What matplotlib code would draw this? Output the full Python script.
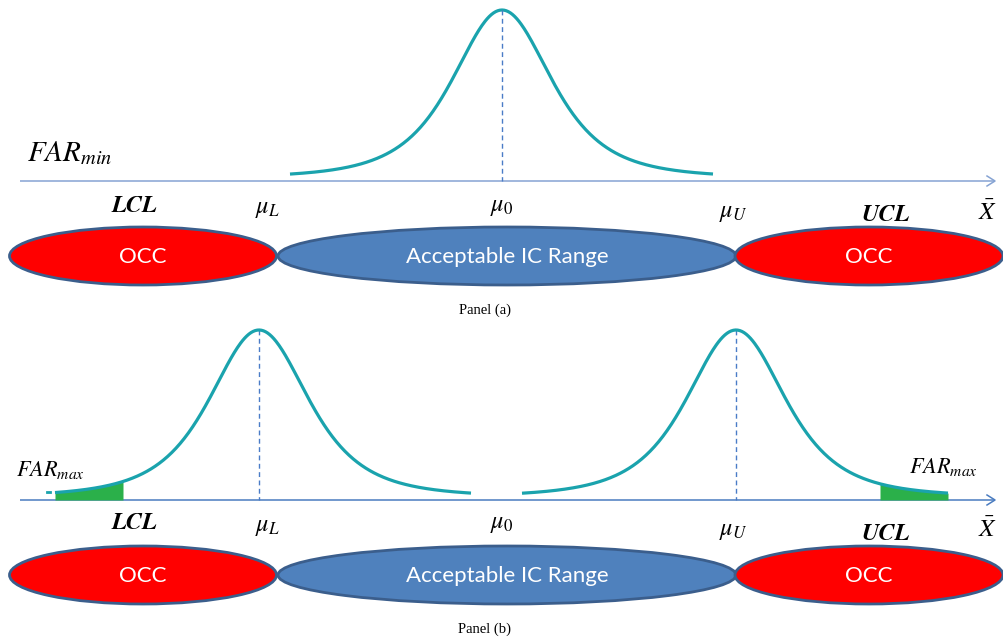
import numpy as np
import matplotlib
matplotlib.use("Agg")
import matplotlib.pyplot as plt
from matplotlib.patches import Ellipse

plt.rcParams['mathtext.fontset'] = 'stix'

# ---------------- data / labels ----------------
zone_labels = ["OCC", "Acceptable IC Range", "OCC"]
limit_labels = ["LCL", "UCL"]
mean_labels = [r"$\mu_L$", r"$\mu_0$", r"$\mu_U$"]
axis_label = r"$\bar{X}$"
far_labels = [r"$FAR_{min}$", r"$FAR_{max}$"]
panel_titles = ["Panel (a)", "Panel (b)"]

# schematic in-control density (Student-t shape)
curve_df = 3
curve_scale = 52.0

# ---------------- layout (pixel space) ----------------
W, H = 1004, 641
fig = plt.figure(figsize=(W / 100, H / 100), dpi=100)
ax = fig.add_axes([0, 0, 1, 1])
ax.set_xlim(0, W)
ax.set_ylim(H, 0)
ax.axis('off')

TEAL = '#1aa3ad'
DASH = '#4a7cc7'
RED = '#ff0000'
BLUE = '#4f81bd'
EDGE = '#3b5e8c'
GREEN = '#2bb04a'


def density(x, mu):
    q = ((x - mu) / curve_scale) ** 2 / curve_df
    return (1 + q) ** (-(curve_df + 1) / 2)


def draw_axis(y, color):
    ax.plot([20, 994], [y, y], color=color, lw=1.1, solid_capstyle='butt')
    ax.plot([987, 995, 987], [y - 5, y, y + 5], color=color, lw=1.1)


def draw_zones(yc):
    specs = [(143, 267, RED), (507, 458, BLUE), (869, 268, RED)]
    for (cx, w, col), lab in zip(specs, zone_labels):
        ax.add_patch(Ellipse((cx, yc), w, 58, facecolor=col,
                             edgecolor=EDGE, lw=2, zorder=3))
        ax.text(cx, yc + 1, lab, color='white', fontsize=16,
                family='Lato', ha='center', va='center', zorder=4)


def limit_text(x, y, s):
    ax.text(x, y, s, fontsize=17.5, family='STIXGeneral', fontweight='bold',
            fontstyle='italic', ha='center', va='center')


# ================= Panel (a) =================
ya = 181
draw_axis(ya, '#86a3d3')
mu0 = 502
xa = np.linspace(290, 713, 400)
base_a, amp_a = 178, 168
ax.plot(xa, base_a - amp_a * density(xa, mu0), color=TEAL, lw=2.3,
        solid_capstyle='butt', zorder=2)
ax.plot([mu0, mu0], [base_a - amp_a, ya], color=DASH, lw=1,
        ls=(0, (3.5, 2.5)))

ax.text(70, 153, far_labels[0], fontsize=21, ha='center', va='center')
limit_text(134, 206, limit_labels[0])
limit_text(886, 215, limit_labels[1])
ax.text(268, 208, mean_labels[0], fontsize=17.5, ha='center', va='center')
ax.text(502, 206, mean_labels[1], fontsize=17.5, ha='center', va='center')
ax.text(733, 212, mean_labels[2], fontsize=17.5, ha='center', va='center')
ax.text(988, 213, axis_label, fontsize=18, ha='center', va='center')
draw_zones(256)
ax.text(485, 310, panel_titles[0], fontsize=10.5, family='Liberation Serif',
        ha='center', va='center')

# ================= Panel (b) =================
yb = 500
draw_axis(yb, '#4a7cc0')
muL, muU = 259, 736
base_b, amp_b = 497, 167
xl = np.linspace(55, 471, 400)
xr = np.linspace(522, 948, 400)
ax.plot(xl, base_b - amp_b * density(xl, muL), color=TEAL, lw=2.3,
        solid_capstyle='butt', zorder=3)
ax.plot(xr, base_b - amp_b * density(xr, muU), color=TEAL, lw=2.3,
        solid_capstyle='butt', zorder=3)

# shaded false-alarm tails
gl = np.linspace(55, 123, 100)
gr = np.linspace(880, 948, 100)
ax.fill_between(gl, base_b - amp_b * density(gl, muL), yb, color=GREEN,
                lw=0, zorder=2)
ax.fill_between(gr, base_b - amp_b * density(gr, muU), yb, color=GREEN,
                lw=0, zorder=2)
ax.plot([47, 50], [492, 492], color=TEAL, lw=2)

for m in (muL, muU):
    ax.plot([m, m], [base_b - amp_b, yb], color=DASH, lw=1,
            ls=(0, (3.5, 2.5)))

ax.text(50, 470, far_labels[1], fontsize=16, ha='center', va='center')
ax.text(943, 467, far_labels[1], fontsize=16, ha='center', va='center')
limit_text(134, 523, limit_labels[0])
limit_text(886, 534, limit_labels[1])
ax.text(268, 526, mean_labels[0], fontsize=17.5, ha='center', va='center')
ax.text(502, 523, mean_labels[1], fontsize=17.5, ha='center', va='center')
ax.text(733, 530, mean_labels[2], fontsize=17.5, ha='center', va='center')
ax.text(988, 530, axis_label, fontsize=18, ha='center', va='center')
draw_zones(575)
ax.text(485, 629, panel_titles[1], fontsize=10.5, family='Liberation Serif',
        ha='center', va='center')

fig.savefig('out.png', dpi=100)
